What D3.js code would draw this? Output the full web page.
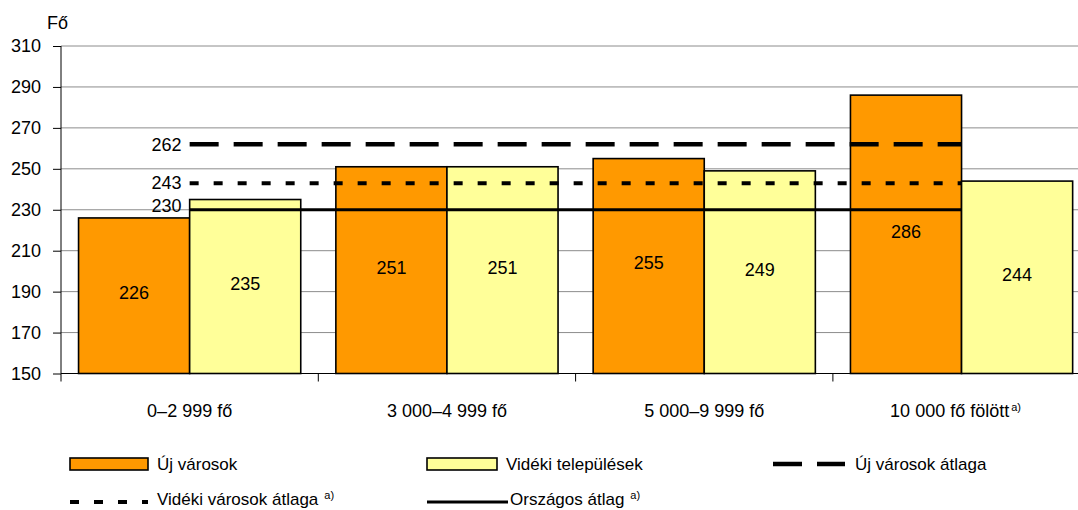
<!DOCTYPE html>
<html><head><meta charset="utf-8">
<script src="https://cdn.jsdelivr.net/npm/d3@7"></script>
<style>body{margin:0;background:#fff}svg{display:block;font-family:"Liberation Sans",Arial,sans-serif}</style>
</head><body><svg id="c" width="1078" height="510"></svg>
<script>
const categories = ["0–2 999 fő", "3 000–4 999 fő", "5 000–9 999 fő", "10 000 fő fölött"];
const categoryNotes = ["", "", "", "a)"];
const seriesNames = ["Új városok", "Vidéki települések"];
const ujVarosok = [226, 251, 255, 286];
const videkiTelepulesek = [235, 251, 249, 244];
const ujVarosokAtlaga = 262;
const videkiVarosokAtlaga = 243;
const orszagosAtlag = 230;
const yTicks = [150, 170, 190, 210, 230, 250, 270, 290, 310];
const yUnit = "Fő";

const svg = d3.select("#c");
const colors = {"Új városok": "#FF9900", "Vidéki települések": "#FFFF99"};
const y = d3.scaleLinear().domain([150, 310]).range([373.5, 46]);
const x = d3.scaleBand().domain(categories).range([61, 61 + 4 * 257.3]);
const xs = d3.scaleBand().domain(seriesNames).range([0, x.bandwidth()]).paddingOuter(0.158);

// gridlines
svg.append("g").selectAll("line").data(yTicks.slice(1)).join("line")
  .attr("x1", 61).attr("x2", 1078).attr("y1", d => y(d)).attr("y2", d => y(d))
  .attr("stroke", "#8c8c8c").attr("stroke-width", 1);

// y axis
const ya = svg.append("g").attr("transform", "translate(61,0)")
  .call(d3.axisLeft(y).tickValues(yTicks).tickSize(8).tickPadding(12).tickFormat(d3.format("d")));
ya.select(".domain").attr("stroke", "#000").attr("d", "M0,46V373.5");
ya.selectAll(".tick line").attr("stroke", "#000");
ya.selectAll("text").attr("font-size", 18).attr("font-family", "Liberation Sans, Arial").attr("fill", "#000");
svg.append("text").attr("x", 47).attr("y", 29).attr("font-size", 18).text(yUnit);

// bars
const rows = categories.map((c, i) => ({c, vals: [ujVarosok[i], videkiTelepulesek[i]]}));
const g = svg.append("g");
rows.forEach(r => {
  seriesNames.forEach((s, j) => {
    const v = r.vals[j];
    g.append("rect").attr("x", x(r.c) + xs(s)).attr("y", y(v))
      .attr("width", xs.bandwidth()).attr("height", y(150) - y(v))
      .attr("fill", colors[s]).attr("stroke", "#000").attr("stroke-width", 1.6);
  });
});

// reference lines
const x0 = x(categories[0]) + x.bandwidth() / 2;
const x1 = x(categories[3]) + x.bandwidth() / 2;
const refs = [
  {v: orszagosAtlag, dash: null, w: 3},
  {v: videkiVarosokAtlaga, dash: "9,15", w: 4},
  {v: ujVarosokAtlaga, dash: "29,15", w: 4.5}
];
refs.forEach(r => {
  svg.append("line").attr("x1", x0).attr("x2", x1).attr("y1", y(r.v)).attr("y2", y(r.v))
    .attr("stroke", "#000").attr("stroke-width", r.w).attr("stroke-dasharray", r.dash);
  svg.append("text").attr("x", x0 - 8).attr("y", y(r.v) - (r.v === orszagosAtlag ? 4 : 0)).attr("dy", "0.35em")
    .attr("text-anchor", "end").attr("font-size", 18).text(r.v);
});

// data labels
rows.forEach(r => {
  seriesNames.forEach((s, j) => {
    const v = r.vals[j];
    g.append("text").attr("x", x(r.c) + xs(s) + xs.bandwidth() / 2)
      .attr("y", (y(v) + y(150)) / 2 - 2).attr("dy", "0.3em").attr("text-anchor", "middle")
      .attr("font-size", 18).text(v);
  });
});

// x axis
svg.append("line").attr("x1", 61).attr("x2", 1078).attr("y1", y(150)).attr("y2", y(150)).attr("stroke", "#000").attr("stroke-width", 1.2);
categories.forEach((c, i) => {
  svg.append("line").attr("x1", x(c)).attr("x2", x(c)).attr("y1", y(150)).attr("y2", y(150) + 8).attr("stroke", "#000");
  const t = svg.append("text").attr("x", x(c) + x.bandwidth() / 2 - (categoryNotes[i] ? 6 : 0)).attr("y", 417).attr("text-anchor", "middle").attr("font-size", 18);
  t.append("tspan").text(c);
  if (categoryNotes[i]) t.append("tspan").attr("font-size", 11).attr("dy", -6).attr("dx", 2).text(categoryNotes[i]);
});

// legend
const lg = svg.append("g").attr("font-size", 17);
function legText(xp, yp, txt, note) {
  const t = lg.append("text").attr("x", xp).attr("y", yp).attr("dy", "0.35em");
  t.append("tspan").text(txt);
  if (note) t.append("tspan").attr("font-size", 11).attr("dy", -6).attr("dx", 6).text(note);
}
lg.append("rect").attr("x", 70).attr("y", 458).attr("width", 78).attr("height", 12).attr("fill", colors[seriesNames[0]]).attr("stroke", "#000").attr("stroke-width", 1.6);
legText(157, 464, seriesNames[0]);
lg.append("rect").attr("x", 427).attr("y", 458).attr("width", 70).attr("height", 12).attr("fill", colors[seriesNames[1]]).attr("stroke", "#000").attr("stroke-width", 1.6);
legText(506, 464, seriesNames[1]);
lg.append("line").attr("x1", 773).attr("x2", 845).attr("y1", 464).attr("y2", 464).attr("stroke", "#000").attr("stroke-width", 4.5).attr("stroke-dasharray", "29,15");
legText(855, 464, "Új városok átlaga");
lg.append("line").attr("x1", 70).attr("x2", 148).attr("y1", 502).attr("y2", 502).attr("stroke", "#000").attr("stroke-width", 4).attr("stroke-dasharray", "9,15");
legText(157, 499, "Vidéki városok átlaga", "a)");
lg.append("line").attr("x1", 427).attr("x2", 508).attr("y1", 502).attr("y2", 502).attr("stroke", "#000").attr("stroke-width", 3);
legText(510, 499, "Országos átlag", "a)");
</script></body></html>
